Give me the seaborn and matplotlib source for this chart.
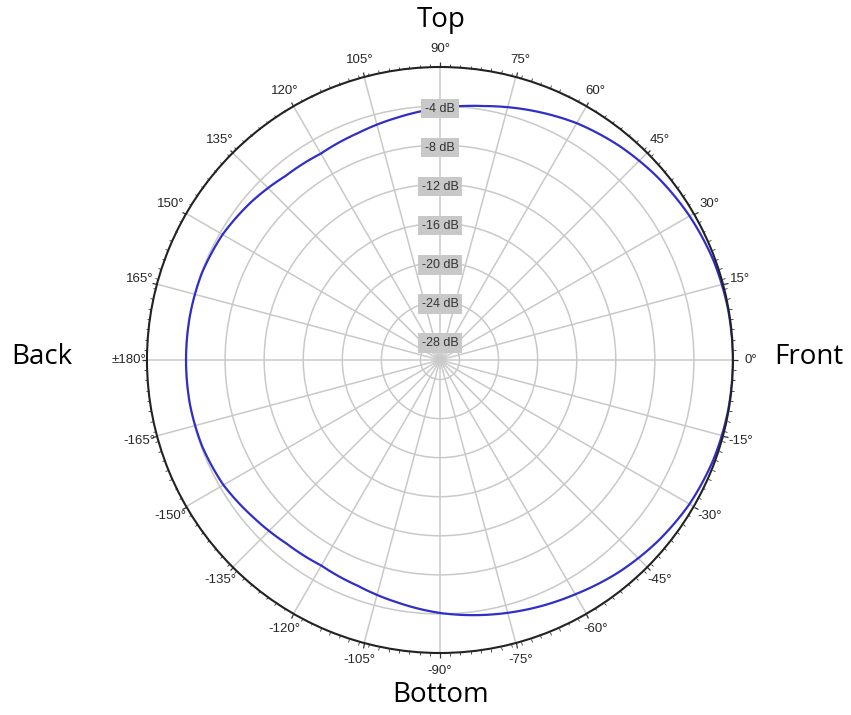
import numpy as np
import pandas as pd
import seaborn as sns
import matplotlib.pyplot as plt

# Polar response (dB relative to on-axis), every 10 degrees
angles_deg = [0, 10, 20, 30, 40, 50, 60, 70, 80, 90, 100, 110,
              120, 130, 140, 150, 160, 170, 180, 190, 200, 210, 220, 230,
              240, 250, 260, 270, 280, 290, 300, 310, 320, 330, 340, 350]
level_db = [0.0, -0.05, -0.2, -0.5, -0.9, -1.4, -2.0, -2.8, -3.6, -4.2, -4.8, -5.3,
            -5.6, -5.4, -4.8, -4.3, -4.05, -4.0, -4.0, -4.0, -4.1, -4.4, -5.0, -5.5,
            -5.7, -5.4, -4.8, -4.1, -3.5, -2.9, -2.3, -1.6, -1.0, -0.5, -0.2, -0.05]

ring_db = [-28, -24, -20, -16, -12, -8, -4]
ring_labels = ["-28 dB", "-24 dB", "-20 dB", "-16 dB", "-12 dB", "-8 dB", "-4 dB"]

theta_ticks = [0, 15, 30, 45, 60, 75, 90, 105, 120, 135, 150, 165,
               180, 195, 210, 225, 240, 255, 270, 285, 300, 315, 330, 345]
theta_labels = ["0°", "15°", "30°", "45°", "60°", "75°", "90°", "105°", "120°", "135°",
                "150°", "165°", "±180°", "-165°", "-150°", "-135°", "-120°", "-105°",
                "-90°", "-75°", "-60°", "-45°", "-30°", "-15°"]

sns.set_style("white")
plt.rcParams["font.family"] = ["Liberation Sans", "DejaVu Sans"]

# close the loop by repeating the first reading at 360
df = pd.DataFrame({"angle": angles_deg + [360], "db": level_db + [level_db[0]]})
df["theta"] = np.deg2rad(df["angle"])

fig = plt.figure(figsize=(8.51, 7.15), dpi=100)
ax = fig.add_axes([0.1727, 0.0867, 0.6886, 0.8196], projection="polar")

sns.lineplot(data=df, x="theta", y="db", sort=False, color="#2f2fc8",
             linewidth=1.6, ax=ax)

ax.set_ylim(-30, 0)
ax.set_yticks(ring_db)
ax.set_yticklabels([])
ax.set_xticks(np.deg2rad(theta_ticks))
ax.set_xticklabels(theta_labels)
ax.set_xticks(np.deg2rad(np.arange(0, 360, 2)), minor=True)
ax.grid(True, color="#c9c9c9", linewidth=1.1)
# tick marks on the outer rim only
ax.tick_params(axis="x", which="both", bottom=False, top=True)
ax.tick_params(axis="x", which="major", pad=2.5, labelsize=9.5, labelcolor="#262626",
               length=3.5, width=0.9, color="#333333", direction="out")
ax.tick_params(axis="x", which="minor", length=2, width=0.6, color="#333333",
               direction="out")
ax.spines["polar"].set_color("#222222")
ax.spines["polar"].set_linewidth(1.5)
ax.set_xlabel("")
ax.set_ylabel("")

# dB ring labels in grey boxes along the 90 degree spoke
for r, lab in zip(ring_db, ring_labels):
    ax.text(np.pi / 2, r - 0.25, lab, ha="center", va="center", fontsize=9,
            color="#333333", zorder=5,
            bbox=dict(boxstyle="square,pad=0.3", fc="#c8c8c8", ec="none"))

# direction captions
cap = dict(fontsize=20, color="black", family=["Open Sans", "DejaVu Sans"],
           ha="center", va="center")
fig.text(441 / 851, 1 - 20 / 715, "Top", **cap)
fig.text(441 / 851, 1 - 695 / 715, "Bottom", **cap)
fig.text(42 / 851, 1 - 357 / 715, "Back", **cap)
fig.text(809 / 851, 1 - 357 / 715, "Front", **cap)

# let the polar transform bend the segments between readings
for ln in ax.lines:
    ln.get_path()._interpolation_steps = 40

fig.savefig("out.png", dpi=100)
